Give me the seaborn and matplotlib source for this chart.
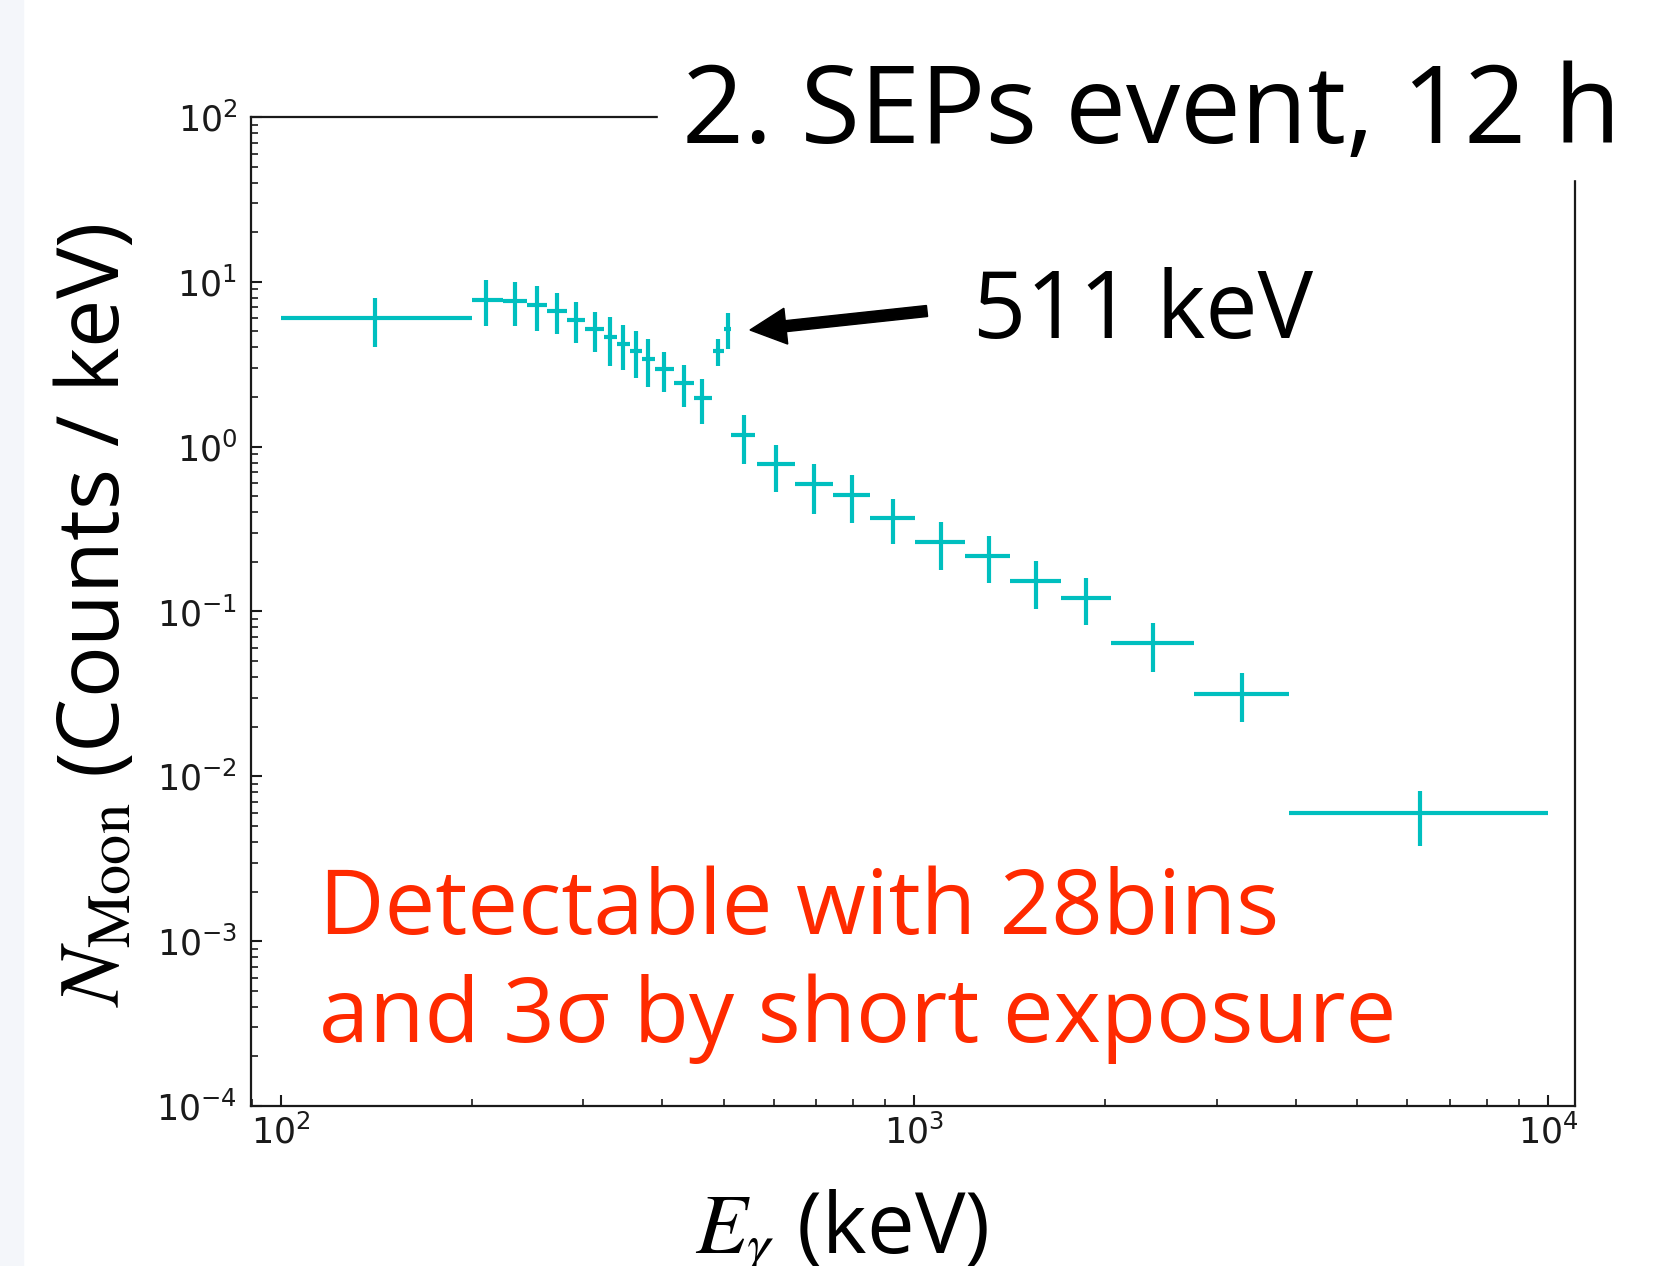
import numpy as np
import matplotlib
matplotlib.use('Agg')
import matplotlib.pyplot as plt
import seaborn as sns
from matplotlib.patches import Rectangle, FancyArrow
from matplotlib.transforms import IdentityTransform
from matplotlib.ticker import NullFormatter

# energy bins (keV): centre, lower edge, upper edge
E_MID = [141, 211, 234, 254, 273, 292, 313, 331, 347, 364, 380, 403, 432, 462,
         490, 508, 538, 604, 695, 796, 924, 1100, 1309, 1554, 1866, 2382, 3289, 6270]
E_LO  = [100, 200, 224, 245, 263, 283, 302, 323, 339, 356, 371, 390, 417, 448,
         480, 501, 514, 564, 648, 745, 852, 1002, 1201, 1413, 1701, 2042, 2762, 3895]
E_HI  = [200, 224, 245, 263, 283, 302, 323, 339, 356, 371, 390, 417, 448, 479,
         500, 513, 561, 648, 745, 852, 1002, 1201, 1413, 1701, 2042, 2762, 3895, 10000]

# counts / keV and 1 sigma error
N_MOON = [6.0, 7.8, 7.7, 7.2, 6.7, 5.9, 5.15, 4.6, 4.2, 3.8, 3.4, 2.95, 2.45, 1.98,
          3.8, 5.2, 1.17, 0.78, 0.59, 0.51, 0.37, 0.265, 0.218, 0.153, 0.121,
          0.064, 0.0318, 0.00596]
N_ERR  = [2.0, 2.4, 2.3, 2.2, 1.9, 1.65, 1.4, 1.5, 1.3, 1.2, 1.1, 0.8, 0.7, 0.6,
          0.7, 1.3, 0.38, 0.25, 0.2, 0.165, 0.113, 0.086, 0.07, 0.049, 0.038,
          0.021, 0.0104, 0.0022]

TITEL = '2. SEPs event, 12 h'
PFEIL_TEXT = '511 keV'
ROT_TEXT = 'Detectable with 28bins\nand 3σ by short exposure'

sns.set_style('ticks', {'xtick.direction': 'in', 'ytick.direction': 'in',
                        'axes.edgecolor': '0.1'})
plt.rcParams['font.family'] = ['DejaVu Sans']
plt.rcParams['mathtext.fontset'] = 'stix'

W, H = 1662, 1266
fig = plt.figure(figsize=(W / 100, H / 100), dpi=100)
ax = fig.add_axes([251 / W, 1 - 1106 / H, (1575 - 251) / W, (1106 - 117) / H])

e_mid = np.array(E_MID, dtype=float)
xerr = [e_mid - np.array(E_LO), np.array(E_HI) - e_mid]
ax.errorbar(e_mid, N_MOON, xerr=xerr, yerr=N_ERR, fmt='none',
            ecolor='c', elinewidth=3, capsize=0)

ax.set_xscale('log')
ax.set_yscale('log')
ax.set_xlim(89.7, 11030)
ax.set_ylim(1e-4, 1e2)
ax.xaxis.set_minor_formatter(NullFormatter())
ax.yaxis.set_minor_formatter(NullFormatter())
ax.tick_params(which='both', direction='in', top=False, right=False,
               labelsize=25, color='0.1', labelcolor='0.1')
ax.tick_params(which='major', length=8, width=1.5)
ax.tick_params(which='minor', length=5, width=1.2)
ax.tick_params(axis='y', pad=10)
ax.tick_params(axis='x', pad=6)
for s in ax.spines.values():
    s.set_linewidth(1.6)

# light strip on the left edge
fig.add_artist(Rectangle((0, 0), 23 / W, 1, transform=fig.transFigure,
                         color='#f4f6fa', zorder=0))
# white box behind the title
fig.add_artist(Rectangle((658 / W, 1 - 179 / H), 1 - 658 / W, 179 / H,
                         transform=fig.transFigure, color='white', zorder=5))

fig.text(682 / W, 1 - 143 / H, TITEL, fontsize=78, family='Open Sans',
         color='black', ha='left', va='baseline', zorder=6)
fig.text(973 / W, 1 - 338 / H, PFEIL_TEXT, fontsize=67, family='Open Sans',
         color='black', ha='left', va='baseline', zorder=6)
fig.add_artist(FancyArrow(927, H - 311, -177, -19, width=11, head_width=36,
                          head_length=36, length_includes_head=True,
                          color='black', transform=IdentityTransform(), zorder=6))
# va='baseline' on two lines puts the last line on y
fig.text(319 / W, 1 - 1042 / H, ROT_TEXT, fontsize=65, family='Open Sans',
         color='#ff2a00', ha='left', va='baseline', linespacing=1.25, zorder=6)

fig.text(97 / W, 1 - 615 / H, r'$N_{\rm Moon}$ (Counts / keV)', fontsize=62,
         family='Open Sans', color='black', rotation=90, ha='center', va='center')
fig.text(695 / W, 1 - 1253 / H, r'$E_{\gamma}$ (keV)', fontsize=61,
         family='Open Sans', color='black', ha='left', va='baseline')

fig.savefig('out.png', dpi=100)
